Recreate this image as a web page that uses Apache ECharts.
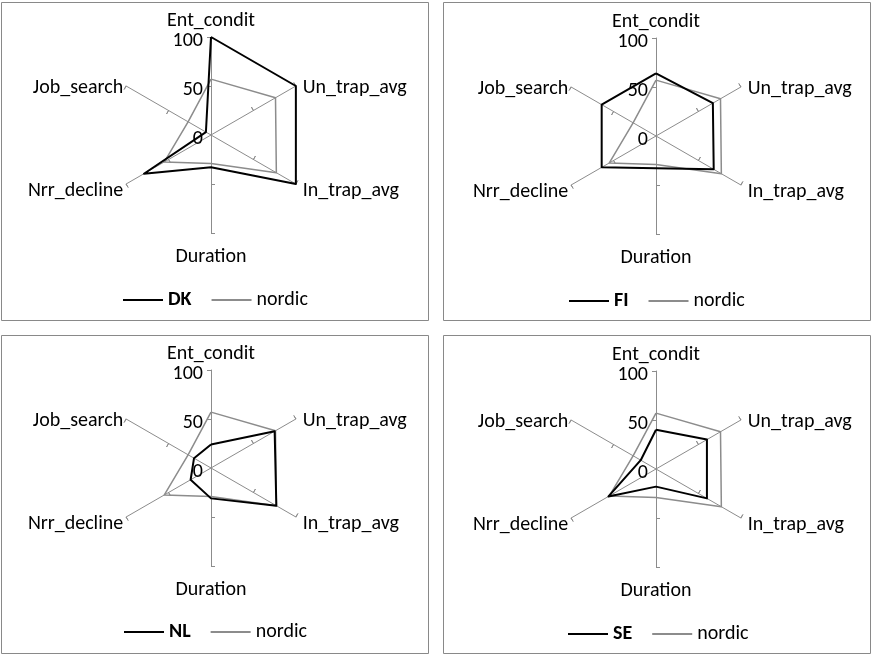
<!DOCTYPE html>
<html>
<head>
<meta charset="utf-8">
<script src="https://cdn.jsdelivr.net/npm/echarts@6/dist/echarts.min.js"></script>
<style>
html,body{margin:0;padding:0;background:#fff;}
#chart{width:872px;height:655px;}
</style>
</head>
<body>
<div id="chart"></div>
<script>
// Indicators in drawing order (counter-clockwise from the top)
const categories = ['Ent_condit', 'Job_search', 'Nrr_decline', 'Duration', 'In_trap_avg', 'Un_trap_avg'];
const axisMax = 100;
const tickLabels = ['0', '50', '100'];

const countries = ['DK', 'FI', 'NL', 'SE'];
const DK = [100, 6, 79, 33, 100, 100];
const FI = [64, 64, 64, 33, 68, 67];
const NL = [24, 20, 24, 31, 77, 75];
const SE = [40, 18, 56, 18, 60, 60];
const nordic = [57, 27, 55, 29, 77, 76];
const countryValues = [DK, FI, NL, SE];

const FONT = 'Carlito, Lato, "Liberation Sans", sans-serif';
const FS = 20;
const AXIS_GRAY = '#8c8c8c';

// panel layout: [left, top, width, height]
const panels = [
  [1.5, 2.5, 427, 318],
  [443.5, 2.5, 427, 318],
  [1.5, 335.5, 427, 318],
  [443.5, 335.5, 427, 318]
];
const centers = [[211, 135], [656, 136], [211, 468], [656, 469]];
const legendPos = [[123, 290], [569, 291], [124, 622], [568, 624]];
const R = 98;

// placement style of each axis name
const nameStyleOf = {
  Ent_condit: 'top', Job_search: 'upL', Un_trap_avg: 'upR',
  Nrr_decline: 'lowL', In_trap_avg: 'lowR', Duration: 'bottom'
};

function makeIndicators(withLabels) {
  return categories.map((c, i) => ({
    name: c, min: 0, max: axisMax,
    axisLabel: { show: withLabels && i === 0 }
  }));
}

const txt = (extra) => Object.assign({ fontFamily: FONT, fontSize: FS, color: '#000' }, extra);

const radar = [];
const series = [];
const legend = [];
const graphic = [];

countries.forEach((cn, k) => {
  radar.push({
    center: centers[k],
    radius: R,
    startAngle: 90,
    shape: 'polygon',
    splitNumber: 2,
    indicator: makeIndicators(true),
    axisName: {
      color: '#000', fontFamily: FONT, fontSize: FS,
      formatter: (name) => '{' + nameStyleOf[name] + '|' + name + '}',
      rich: {
        top: txt({}),
        upL: txt({ padding: [5, 2, 0, 0] }),
        upR: txt({ padding: [5, 0, 0, 6] }),
        lowL: txt({ padding: [13, 2, 0, 0] }),
        lowR: txt({ padding: [13, 0, 0, 6] }),
        bottom: txt({ padding: [13, 0, 0, 0] })
      }
    },
    nameGap: 1,
    axisLine: { lineStyle: { color: AXIS_GRAY, width: 1 } },
    axisTick: { show: true, length: 4, customValues: [50, 100], lineStyle: { color: AXIS_GRAY, width: 1 } },
    axisLabel: {
      show: true, color: '#000', fontFamily: FONT, fontSize: FS,
      formatter: (v) => '{t|' + (tickLabels[Math.round(v / 50)] || '') + '}',
      rich: { t: txt({ padding: [8, 0, 0, 0] }) }
    },
    splitLine: { show: false },
    splitArea: { show: false }
  });
  // second radar only for ticks on the other side of each axis
  radar.push({
    center: centers[k],
    radius: R,
    startAngle: 90,
    shape: 'polygon',
    splitNumber: 2,
    indicator: makeIndicators(false),
    axisName: { show: false },
    axisLine: { show: false },
    axisTick: { show: true, inside: true, length: 4, customValues: [50, 100], lineStyle: { color: AXIS_GRAY, width: 1 } },
    axisLabel: { show: false },
    splitLine: { show: false },
    splitArea: { show: false }
  });

  series.push({
    type: 'radar',
    radarIndex: 2 * k,
    symbol: 'none',
    z: 3,
    data: [{
      name: 'nordic', value: nordic,
      itemStyle: { color: '#8c8c8c' },
      lineStyle: { color: '#8c8c8c', width: 1.5 }
    }, {
      name: cn, value: countryValues[k],
      itemStyle: { color: '#000' },
      lineStyle: { color: '#000', width: 2 }
    }]
  });

  legend.push({
    left: legendPos[k][0],
    top: legendPos[k][1],
    padding: 0,
    orient: 'horizontal',
    icon: 'rect',
    itemWidth: 40,
    itemHeight: 2,
    itemGap: 20,
    selectedMode: false,
    textStyle: { color: '#000', fontFamily: FONT, fontSize: FS },
    data: [{ name: cn, textStyle: { fontWeight: 'bold' } }, { name: 'nordic' }]
  });

  graphic.push({
    type: 'rect',
    shape: { x: panels[k][0], y: panels[k][1], width: panels[k][2], height: panels[k][3] },
    style: { fill: 'none', stroke: '#898989', lineWidth: 1 },
    z: 0
  });
});

const chart = echarts.init(document.getElementById('chart'), null, { renderer: 'canvas' });
chart.setOption({
  animation: false,
  backgroundColor: '#fff',
  textStyle: { fontFamily: FONT },
  graphic: graphic,
  legend: legend,
  radar: radar,
  series: series
});
</script>
</body>
</html>
